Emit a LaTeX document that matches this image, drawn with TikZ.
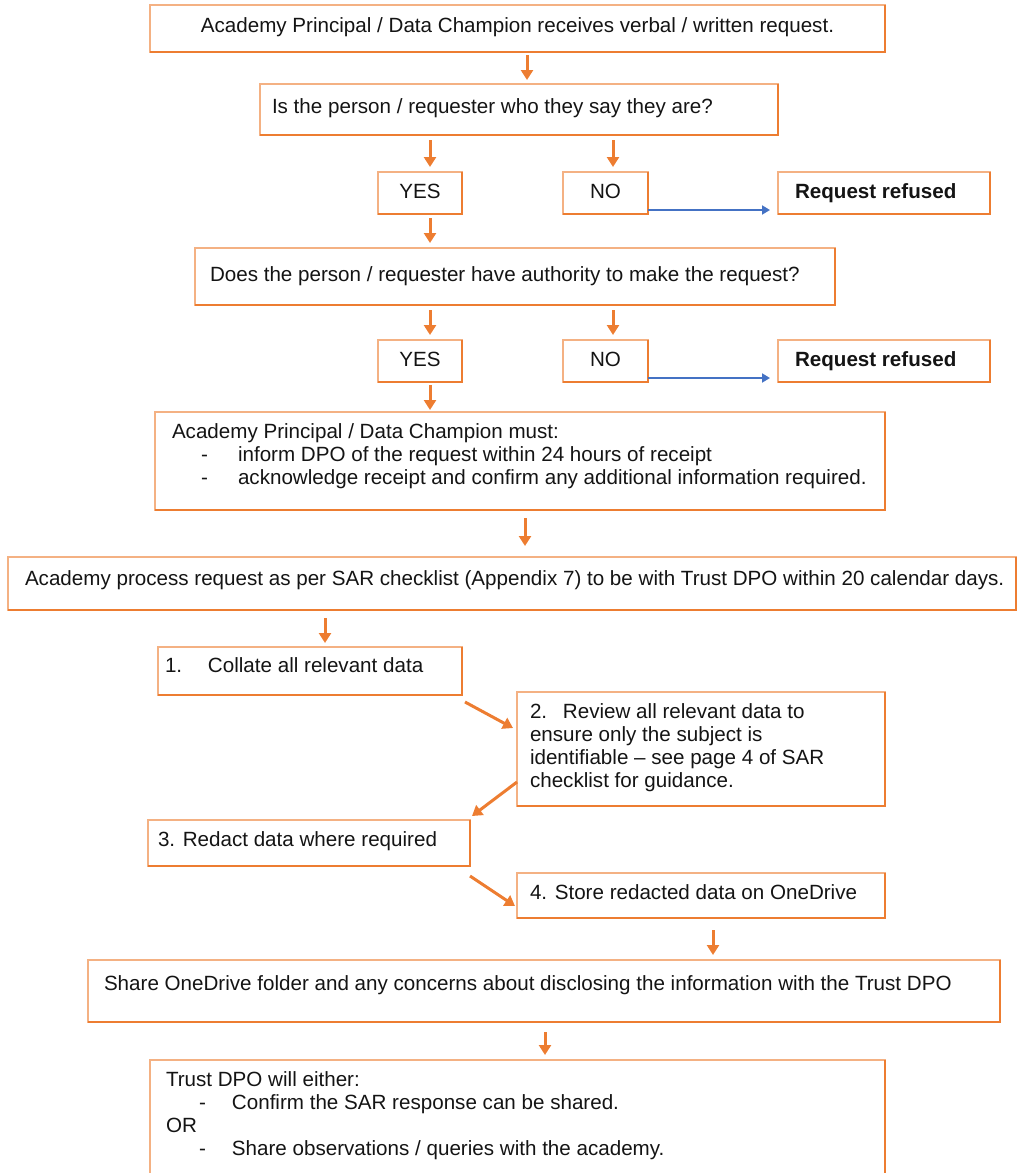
\documentclass[tikz,border=0pt]{standalone}
\usepackage{fontspec}
\setmainfont{Liberation Sans}
\usetikzlibrary{arrows.meta}
\definecolor{olight}{HTML}{F4B183}
\definecolor{odark}{HTML}{ED7D31}
\definecolor{bblue}{HTML}{4472C4}
\definecolor{txt}{HTML}{141414}
\newcommand{\bxt}[4]{\parbox[c][#1pt][t]{#2pt}{\vspace*{\dimexpr#3pt+2pt\relax}\strut #4}}
\newcommand{\dsh}[1]{\hspace*{#1pt}\makebox[\dimexpr66pt-#1pt\relax][l]{-}}
\begin{document}
\begin{tikzpicture}[x=1pt,y=-1pt,
  font=\fontsize{20.6}{22.8}\selectfont,
  bx/.style={draw=olight, line width=1.1pt, rectangle, anchor=north west,
    outer sep=0pt, inner ysep=0pt, text=txt},
  edge/.style={draw=odark, line width=2.4pt},
  oarr/.style={draw=odark, line width=3pt, shorten <=#1,
    -{Triangle[width=12pt,length=10pt]}},
  oarr/.default=4pt,
  barr/.style={draw=bblue, line width=1.8pt, -{Triangle[width=9pt,length=8pt]}}
]
\useasboundingbox (0,0) rectangle (1018,1173);

% boxes
\node[bx, inner xsep=0pt] (b1) at (150,5) {\bxt{47}{735}{10}{\centering Academy Principal / Data Champion receives verbal / written request.}};
\node[bx, inner xsep=12pt] (b2) at (260,84) {\bxt{51}{494}{12}{Is the person / requester who they say they are?}};
\node[bx, inner xsep=0pt] (y1) at (378,172) {\bxt{42}{84}{9}{\centering YES}};
\node[bx, inner xsep=0pt] (n1) at (563,172) {\bxt{42}{85}{9}{\centering NO}};
\node[bx, inner xsep=17pt] (r1) at (778,172) {\bxt{42}{178}{9}{\textbf{Request refused}}};
\node[bx, inner xsep=15pt] (b3) at (195,248) {\bxt{57}{610}{16}{Does the person / requester have authority to make the request?}};
\node[bx, inner xsep=0pt] (y2) at (378,340) {\bxt{42}{84}{9}{\centering YES}};
\node[bx, inner xsep=0pt] (n2) at (563,340) {\bxt{42}{85}{9}{\centering NO}};
\node[bx, inner xsep=17pt] (r2) at (778,340) {\bxt{42}{178}{9}{\textbf{Request refused}}};
\node[bx, inner xsep=17pt] (b4) at (155,412) {\bxt{98}{696}{9}{Academy Principal / Data Champion must:\\
  \dsh{29}inform DPO of the request within 24 hours of receipt\\
  \dsh{29}acknowledge receipt and confirm any additional information required.}};
\node[bx, inner xsep=17pt] (b5) at (8,557) {\bxt{53}{974}{11}{\mbox{Academy process request as per SAR checklist (Appendix 7) to be with Trust DPO within 20 calendar days.}}};
\node[bx, inner xsep=7pt] (b6) at (158,647) {\bxt{48}{290}{8}{\makebox[43pt][l]{1.}Collate all relevant data}};
\node[bx, inner xsep=13pt] (b7) at (517,692) {\bxt{114}{342}{9}{\makebox[33pt][l]{2.}Review all relevant data to\\
  ensure only the subject is\\
  identifiable -- see page 4 of SAR\\
  checklist for guidance.}};
\node[bx, inner xsep=10pt] (b8) at (148,820) {\bxt{46}{302}{9}{3. Redact data where required}};
\node[bx, inner xsep=13pt] (b9) at (517,873) {\bxt{45}{342}{9}{4. Store redacted data on OneDrive}};
\node[bx, inner xsep=16pt] (b10) at (88,960) {\bxt{62}{880}{13}{\mbox{Share OneDrive folder and any concerns about disclosing the information with the Trust DPO}}};
\node[bx, inner xsep=16pt] (b11) at (150,1060) {\bxt{140}{703}{9}{Trust DPO will either:\\
  \dsh{33}Confirm the SAR response can be shared.\\
  OR\\
  \dsh{33}Share observations / queries with the academy.}};

% shadow edges (right and bottom)
\foreach \n in {b1,b2,y1,n1,r1,b3,y2,n2,r2,b4,b5,b6,b7,b8,b9,b10,b11}
  \draw[edge] (\n.north east) -- (\n.south east) -- (\n.south west);

% vertical arrows
\draw[oarr=3pt, shorten >=4pt] (527,0 |- b1.south) -- (527,0 |- b2.north);
\draw[oarr=5pt, shorten >=5pt] (430,0 |- b2.south) -- (430,0 |- y1.north);
\draw[oarr=5pt, shorten >=5pt] (613,0 |- b2.south) -- (613,0 |- n1.north);
\draw[oarr=4pt, shorten >=5pt] (430,0 |- y1.south) -- (430,0 |- b3.north);
\draw[oarr=5pt, shorten >=5pt] (430,0 |- b3.south) -- (430,0 |- y2.north);
\draw[oarr=5pt, shorten >=5pt] (613,0 |- b3.south) -- (613,0 |- n2.north);
\draw[oarr=3pt, shorten >=2pt] (430,0 |- y2.south) -- (430,0 |- b4.north);
\draw[oarr=8pt, shorten >=11pt] (525,0 |- b4.south) -- (525,0 |- b5.north);
\draw[oarr=8pt, shorten >=4pt] (325,0 |- b5.south) -- (325,0 |- b6.north);
\draw[oarr=12pt, shorten >=5pt] (713,0 |- b9.south) -- (713,0 |- b10.north);
\draw[oarr=10pt, shorten >=5pt] (545,0 |- b10.south) -- (545,0 |- b11.north);

% diagonal arrows
\draw[oarr=0pt] ([xshift=3pt,yshift=-7pt]b6.south east) -- ([xshift=-4pt,yshift=-36pt]b7.north west);
\draw[oarr=0pt] ([yshift=-90pt]b7.north west) -- ([xshift=2pt,yshift=4pt]b8.north east);
\draw[oarr=0pt] ([yshift=-10pt]b8.south east) -- ([xshift=-2pt,yshift=-33pt]b9.north west);

% blue arrows
\draw[barr, shorten >=8pt] ([yshift=-17pt]n1.east) -- ([yshift=-17pt]n1.east -| r1.west);
\draw[barr, shorten >=8pt] ([yshift=-17pt]n2.east) -- ([yshift=-17pt]n2.east -| r2.west);
\end{tikzpicture}
\end{document}
